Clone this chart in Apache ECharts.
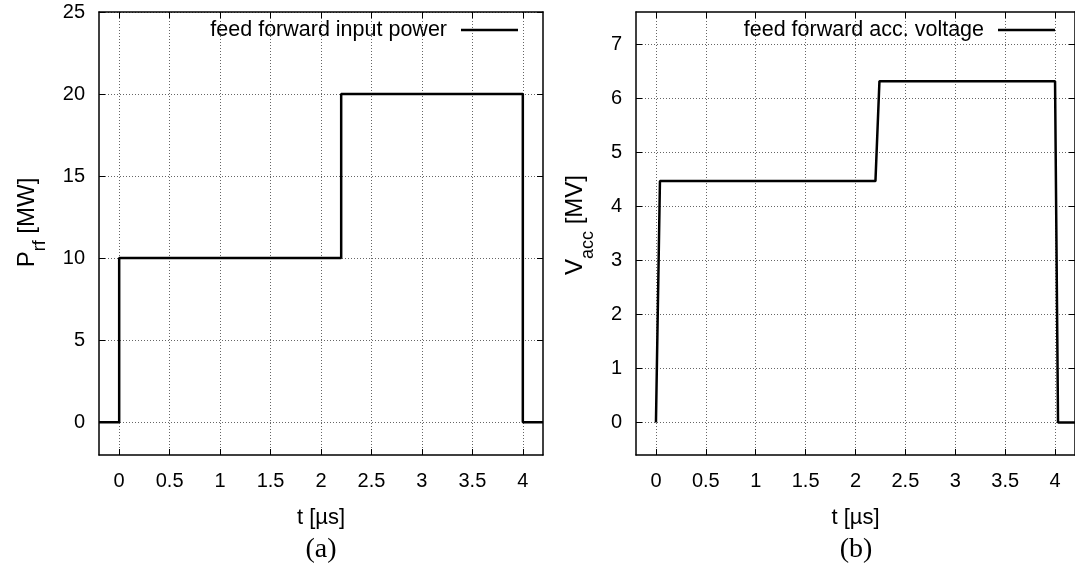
<!DOCTYPE html>
<html>
<head>
<meta charset="utf-8">
<script src="https://cdn.jsdelivr.net/npm/echarts@6/dist/echarts.min.js"></script>
<style>
html,body{margin:0;padding:0;background:#fff;}
#c{width:1075px;height:574px;}
</style>
</head>
<body>
<div id="c"></div>
<script>
// ---- data ----
const tA = [-0.2, 0, 0, 2.2, 2.2, 4.0, 4.0, 4.2];
const pA = [0, 0, 10, 10, 20, 20, 0, 0];
const tB = [0, 0.04, 2.2, 2.24, 4.0, 4.03, 4.2];
const vB = [0, 4.47, 4.47, 6.32, 6.32, 0, 0];
const xTicks = [0, 0.5, 1, 1.5, 2, 2.5, 3, 3.5, 4];
const yTicksA = [0, 5, 10, 15, 20, 25];
const yTicksB = [0, 1, 2, 3, 4, 5, 6, 7];
const nameA = 'feed forward input power';
const nameB = 'feed forward acc. voltage';

const FONT = 'Liberation Sans';
const chart = echarts.init(document.getElementById('c'), null, {renderer: 'canvas'});

function mainX(gi) {
  return {
    type: 'value', gridIndex: gi, min: -0.2, max: 4.2, position: 'bottom',
    name: 't [\u00b5s]', nameLocation: 'middle', nameGap: 52,
    nameTextStyle: {fontFamily: FONT, fontSize: 22, color: '#000'},
    axisLine: {show: true, onZero: false, lineStyle: {color: '#000', width: 1.5}},
    axisTick: {show: true, inside: true, length: 6, customValues: xTicks, lineStyle: {color: '#000', width: 1}},
    axisLabel: {show: true, customValues: xTicks, margin: 16, fontFamily: FONT, fontSize: 20, color: '#000'},
    splitLine: {show: true, lineStyle: {color: '#666', type: [1, 2], width: 1}}
  };
}
function mirrorX(gi) {
  return {
    type: 'value', gridIndex: gi, min: -0.2, max: 4.2, position: 'top',
    axisLine: {show: true, onZero: false, lineStyle: {color: '#000', width: 1.5}},
    axisTick: {show: true, inside: true, length: 6, customValues: xTicks, lineStyle: {color: '#000', width: 1}},
    axisLabel: {show: false}, splitLine: {show: false}
  };
}
function mainY(gi, min, max, ticks, name, sub, rest, gap, shift) {
  return {
    type: 'value', gridIndex: gi, min: min, max: max, position: 'left',
    name: '{m|' + name + '}{s|' + sub + '}{m|' + rest + '}',
    nameLocation: 'middle', nameGap: gap,
    nameTextStyle: {
      padding: [0, 0, 0, shift],
      rich: {
        m: {fontFamily: FONT, fontSize: 24, lineHeight: 24, verticalAlign: 'top', color: '#000'},
        s: {fontFamily: FONT, fontSize: 18, lineHeight: 34, verticalAlign: 'bottom', color: '#000'}
      }
    },
    axisLine: {show: true, onZero: false, lineStyle: {color: '#000', width: 1.5}},
    axisTick: {show: true, inside: true, length: 6, customValues: ticks, lineStyle: {color: '#000', width: 1}},
    axisLabel: {show: true, customValues: ticks, margin: 14, fontFamily: FONT, fontSize: 20, color: '#000'},
    splitLine: {show: true, lineStyle: {color: '#666', type: [1, 2], width: 1}}
  };
}
function mirrorY(gi, min, max, ticks) {
  return {
    type: 'value', gridIndex: gi, min: min, max: max, position: 'right',
    axisLine: {show: true, onZero: false, lineStyle: {color: '#000', width: 1.5}},
    axisTick: {show: true, inside: true, length: 6, customValues: ticks, lineStyle: {color: '#000', width: 1}},
    axisLabel: {show: false}, splitLine: {show: false}
  };
}

const option = {
  backgroundColor: '#fff',
  animation: false,
  grid: [
    {left: 99, top: 12, width: 444, height: 443},
    {left: 636, top: 12, width: 444, height: 443}
  ],
  xAxis: [mainX(0), mirrorX(0), mainX(1), mirrorX(1)],
  yAxis: [
    mainY(0, -2, 25, yTicksA, 'P', 'rf', ' [MW]', 50, 22),
    mirrorY(0, -2, 25, yTicksA),
    mainY(1, -0.6, 7.6, yTicksB, 'V', 'acc', ' [MV]', 39, 17),
    mirrorY(1, -0.6, 7.6, yTicksB)
  ],
  legend: [
    {data: [nameA], right: 557, top: 19, padding: 0, align: 'right', selectedMode: false,
     icon: 'rect', itemWidth: 57, itemHeight: 2.5,
     textStyle: {fontFamily: FONT, fontSize: 21.5, color: '#000', padding: [0, 9, 0, 0]}},
    {data: [nameB], right: 20, top: 19, padding: 0, align: 'right', selectedMode: false,
     icon: 'rect', itemWidth: 57, itemHeight: 2.5,
     textStyle: {fontFamily: FONT, fontSize: 21.5, color: '#000', padding: [0, 9, 0, 0]}}
  ],
  graphic: [
    {type: 'text', x: 321, y: 550, style: {text: '(a)', font: '28px "Liberation Serif"', fill: '#000', textAlign: 'center', textVerticalAlign: 'middle'}},
    {type: 'text', x: 856, y: 550, style: {text: '(b)', font: '28px "Liberation Serif"', fill: '#000', textAlign: 'center', textVerticalAlign: 'middle'}}
  ],
  series: [
    {name: nameA, type: 'line', xAxisIndex: 0, yAxisIndex: 0, showSymbol: false, symbol: 'none',
     color: '#000', lineStyle: {color: '#000', width: 2.5}, data: tA.map((t, i) => [t, pA[i]])},
    {name: nameB, type: 'line', xAxisIndex: 2, yAxisIndex: 2, showSymbol: false, symbol: 'none',
     color: '#000', lineStyle: {color: '#000', width: 2.5}, data: tB.map((t, i) => [t, vB[i]])}
  ]
};
chart.setOption(option);
</script>
</body>
</html>
